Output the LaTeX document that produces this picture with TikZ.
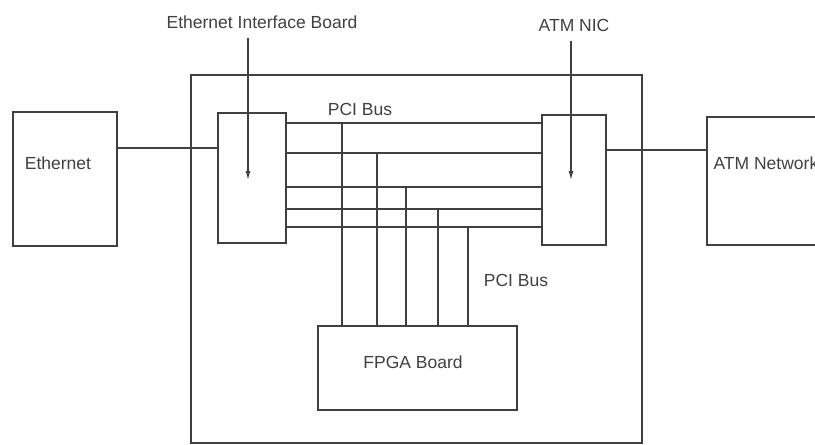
\documentclass[tikz,border=0pt]{standalone}
\usepackage{fontspec}
\setmainfont{Liberation Sans}
\usetikzlibrary{arrows.meta}
\begin{document}
\begin{tikzpicture}[x=1pt,y=-1pt,line width=1.2pt,draw=black!75,
  box/.style={draw, inner sep=0pt},
  txt/.style={inner sep=0pt, text=black!75, font=\fontsize{17.5}{20}\selectfont},
  pointer/.style={-{Latex[length=9pt,width=5pt]}}]
\useasboundingbox (0,0) rectangle (815,445);
\node[box, minimum width=451, minimum height=368] (card) at (416.5,259) {};
\node[box, minimum width=104, minimum height=134] (eth) at (65,179) {};
\node[box, minimum width=68, minimum height=130] (eib) at (252,178) {};
\node[box, minimum width=64, minimum height=130] (nic) at (574,180) {};
\node[box, minimum width=130, minimum height=128] (atm) at (772,181) {};
\node[box, minimum width=199, minimum height=84] (fpga) at (417.5,368) {};
\node[txt] (ethtext) at (58,163) {Ethernet};
\node[txt, anchor=west] (atmtext) at (713,163) {ATM Network};
\node[txt] (fpgatext) at (413,362) {FPGA Board};
\node[txt] (bustop) at (360,109) {PCI Bus};
\node[txt] (buslow) at (516,280) {PCI Bus};
\node[txt] (eiblabel) at (262,22) {Ethernet Interface Board};
\node[txt] (niclabel) at (574,25) {ATM NIC};
\draw (eth.east |- 0,148) -- (eib.west |- 0,148);
\draw (nic.east |- 0,150) -- (atm.west |- 0,150);
\foreach \y/\x in {123/342,153/377,187/406,209/438,227/468} {
  \draw (eib.east |- 0,\y) -- (nic.west |- 0,\y);
  \draw (\x,\y) -- (fpga.north -| \x,0);
}
\draw[pointer] (eiblabel.south -| 248,0) ++(0,9) -- (248,180);
\draw[pointer] (niclabel.south -| 571,0) ++(0,9) -- (571,180);
\end{tikzpicture}
\end{document}
